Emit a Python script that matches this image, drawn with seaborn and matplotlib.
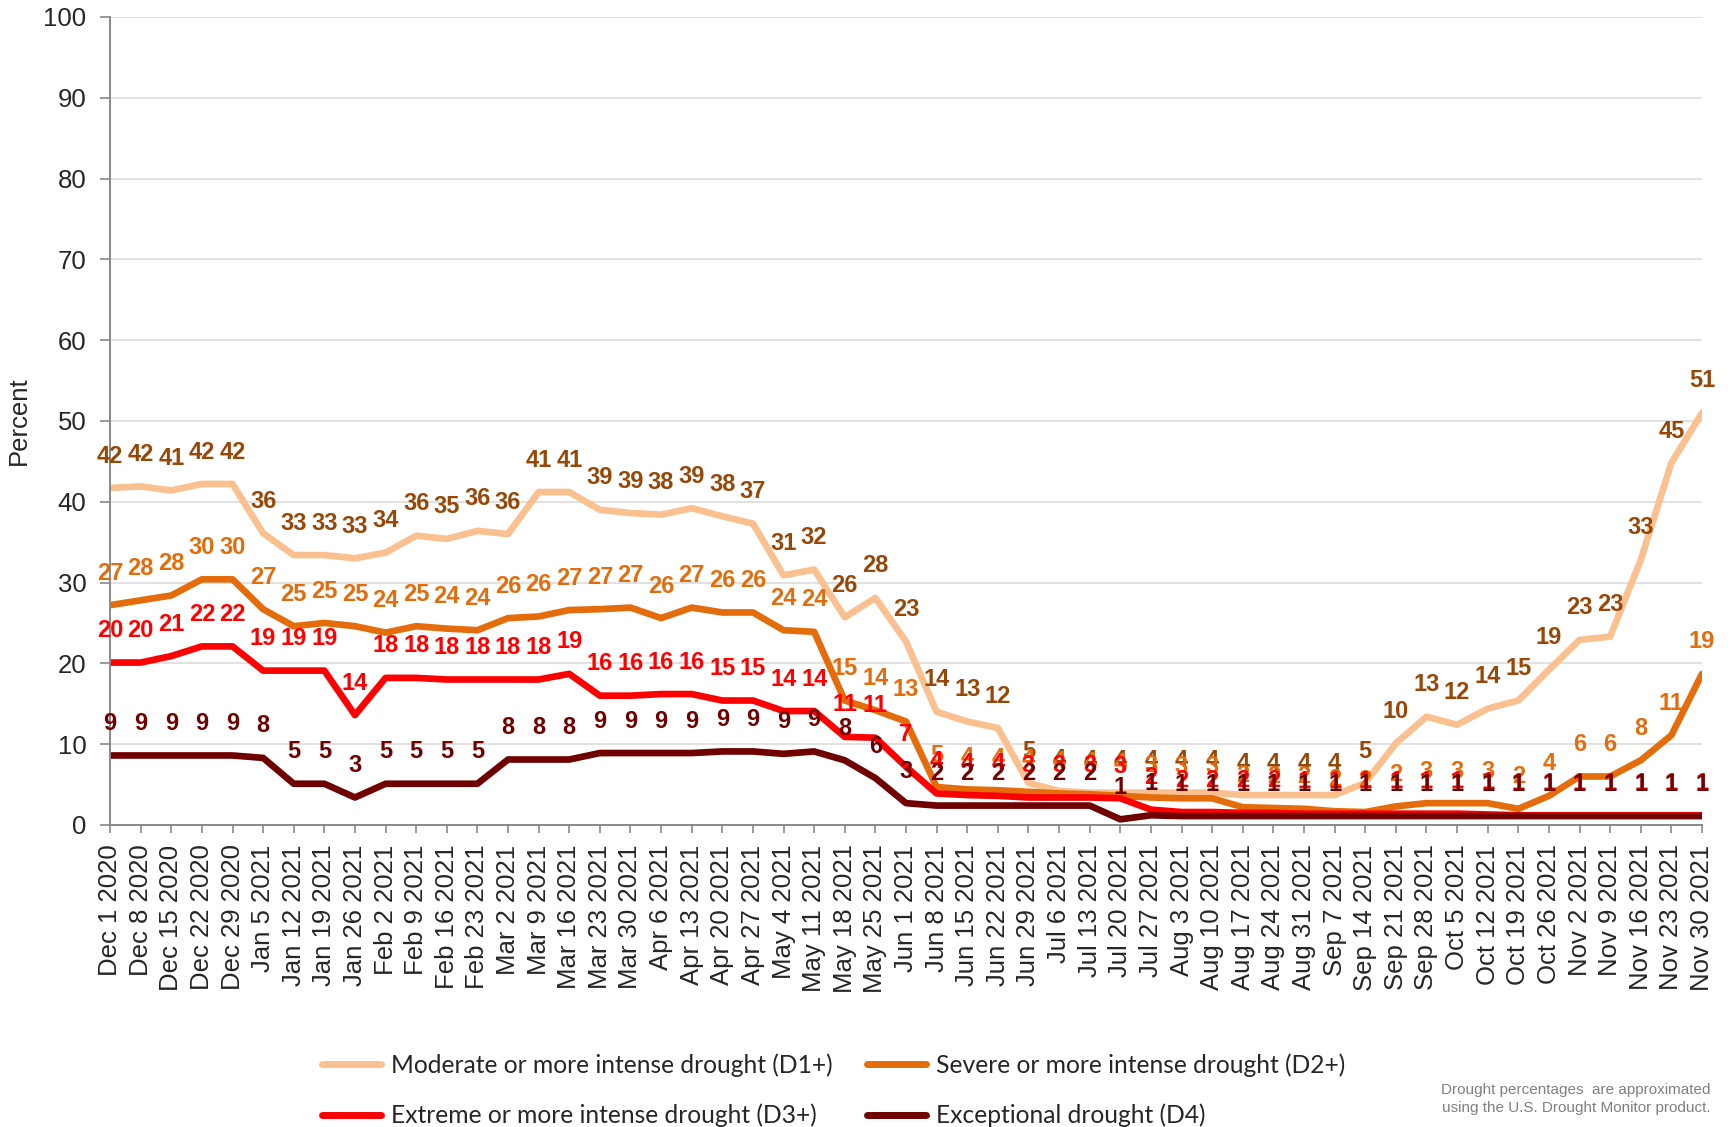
import pandas as pd
import matplotlib.pyplot as plt
from matplotlib.lines import Line2D
import seaborn as sns

# weekly dates (Dec 2020 - Nov 2021)
dates = [
    "Dec 1 2020", "Dec 8 2020", "Dec 15 2020", "Dec 22 2020", "Dec 29 2020",
    "Jan 5 2021", "Jan 12 2021", "Jan 19 2021", "Jan 26 2021",
    "Feb 2 2021", "Feb 9 2021", "Feb 16 2021", "Feb 23 2021",
    "Mar 2 2021", "Mar 9 2021", "Mar 16 2021", "Mar 23 2021", "Mar 30 2021",
    "Apr 6 2021", "Apr 13 2021", "Apr 20 2021", "Apr 27 2021",
    "May 4 2021", "May 11 2021", "May 18 2021", "May 25 2021",
    "Jun 1 2021", "Jun 8 2021", "Jun 15 2021", "Jun 22 2021", "Jun 29 2021",
    "Jul 6 2021", "Jul 13 2021", "Jul 20 2021", "Jul 27 2021",
    "Aug 3 2021", "Aug 10 2021", "Aug 17 2021", "Aug 24 2021", "Aug 31 2021",
    "Sep 7 2021", "Sep 14 2021", "Sep 21 2021", "Sep 28 2021",
    "Oct 5 2021", "Oct 12 2021", "Oct 19 2021", "Oct 26 2021",
    "Nov 2 2021", "Nov 9 2021", "Nov 16 2021", "Nov 23 2021", "Nov 30 2021",
]

d1 = [41.7, 41.9, 41.4, 42.2, 42.2, 36.1, 33.4, 33.4, 33.0, 33.7, 35.8, 35.4, 36.4,
      36.0, 41.2, 41.2, 39.0, 38.6, 38.4, 39.2, 38.2, 37.3, 30.9, 31.6, 25.7, 28.1,
      22.7, 14.0, 12.8, 12.0, 5.2, 4.2, 4.0, 4.0, 4.0, 4.0, 4.0, 3.7, 3.7, 3.7,
      3.7, 5.2, 10.1, 13.4, 12.4, 14.4, 15.4, 19.2, 22.9, 23.3, 32.8, 44.8, 51.0]
d2 = [27.2, 27.8, 28.4, 30.4, 30.4, 26.7, 24.6, 25.0, 24.6, 23.8, 24.6, 24.3, 24.1,
      25.6, 25.8, 26.6, 26.7, 26.9, 25.6, 26.9, 26.3, 26.3, 24.1, 23.9, 15.4, 14.2,
      12.8, 4.7, 4.4, 4.3, 4.1, 3.9, 3.8, 3.6, 3.4, 3.3, 3.3, 2.2, 2.1, 2.0,
      1.7, 1.6, 2.3, 2.7, 2.7, 2.7, 2.0, 3.6, 6.0, 6.0, 8.0, 11.1, 18.7]
d3 = [20.1, 20.1, 20.9, 22.1, 22.1, 19.1, 19.1, 19.1, 13.6, 18.2, 18.2, 18.0, 18.0,
      18.0, 18.0, 18.7, 16.0, 16.0, 16.2, 16.2, 15.4, 15.4, 14.1, 14.1, 10.9, 10.8,
      7.2, 3.9, 3.7, 3.6, 3.4, 3.4, 3.4, 3.3, 1.9, 1.6, 1.6, 1.5, 1.5, 1.4,
      1.4, 1.4, 1.4, 1.4, 1.4, 1.3, 1.2, 1.2, 1.2, 1.2, 1.2, 1.2, 1.2]
d4 = [8.6, 8.6, 8.6, 8.6, 8.6, 8.3, 5.1, 5.1, 3.4, 5.1, 5.1, 5.1, 5.1,
      8.1, 8.1, 8.1, 8.9, 8.9, 8.9, 8.9, 9.1, 9.1, 8.8, 9.1, 8.0, 5.8,
      2.7, 2.4, 2.4, 2.4, 2.4, 2.4, 2.4, 0.7, 1.2, 1.1, 1.1, 1.1, 1.1, 1.1,
      1.1, 1.1, 1.1, 1.1, 1.1, 1.1, 1.1, 1.1, 1.1, 1.1, 1.1, 1.1, 1.1]

series_names = [
    "Moderate or more intense drought (D1+)",
    "Severe or more intense drought (D2+)",
    "Extreme or more intense drought (D3+)",
    "Exceptional drought (D4)",
]
line_colors = ["#FAC090", "#E46C0A", "#FF0000", "#700000"]
label_colors = ["#974706", "#E46C0A", "#FF0000", "#700000"]

# long-form table for seaborn
frames = []
for name, vals in zip(series_names, [d1, d2, d3, d4]):
    frames.append(pd.DataFrame({"idx": range(len(dates)), "value": vals, "series": name}))
df = pd.concat(frames, ignore_index=True)

sns.set_theme(style="white")
plt.rcParams["font.family"] = ["Liberation Sans", "DejaVu Sans"]

fig = plt.figure(figsize=(17.33, 11.27), dpi=100)
ax = fig.add_axes([0.0635, 0.268, 0.9186, 0.7170])

palette = dict(zip(series_names, line_colors))
sns.lineplot(data=df, x="idx", y="value", hue="series", hue_order=series_names,
             palette=palette, linewidth=4.8, errorbar=None, legend=False, ax=ax,
             solid_capstyle="round", solid_joinstyle="round")

# data labels above each point
for name, vals, col in zip(series_names, [d1, d2, d3, d4], label_colors):
    for i, v in enumerate(vals):
        ax.annotate(f"{v:.0f}", (i, v), xytext=(0, 23), textcoords="offset points",
                    ha="center", va="center", fontsize=17, fontweight="bold",
                    color=col, annotation_clip=False)

ax.set_xlim(0, len(dates) - 1)
ax.set_ylim(0, 100)
ax.set_yticks(range(0, 101, 10))
ax.set_xticks(range(len(dates)))
ax.set_xticklabels(dates, rotation=90, fontsize=18.5)
ax.tick_params(axis="y", labelsize=18.5, length=7, width=1.2, color="#898989", pad=10, left=True)
ax.tick_params(axis="x", length=6, width=1.2, color="#898989", pad=8, bottom=True)
ax.set_xlabel("")
ax.set_ylabel("Percent", fontsize=18.5, labelpad=9)

ax.grid(axis="y", color="#d9d9d9", linewidth=1.1)
ax.set_axisbelow(True)
for s in ["top", "right"]:
    ax.spines[s].set_visible(False)
for s in ["left", "bottom"]:
    ax.spines[s].set_color("#898989")
    ax.spines[s].set_linewidth(1.4)

# legend, filled column-wise: D1, D3 | D2, D4
order = [0, 2, 1, 3]
handles = [Line2D([0], [0], color=line_colors[k], linewidth=5, solid_capstyle="round") for k in order]
labels = [series_names[k] for k in order]
fig.legend(handles, labels, ncol=2, loc="upper left",
           bbox_to_anchor=(322 / 1733, 1 - 1053 / 1127), frameon=False,
           prop={"family": "Lato", "size": 17.7}, handlelength=2.4, handletextpad=0.4,
           columnspacing=1.4, labelspacing=1.1, borderpad=0, borderaxespad=0)

fig.text(1711 / 1733, 1 - 1099 / 1127,
         "Drought percentages  are approximated\nusing the U.S. Drought Monitor product.",
         ha="right", va="center", fontsize=11, color="#808080", linespacing=1.3)

fig.savefig("out.png", dpi=100)
